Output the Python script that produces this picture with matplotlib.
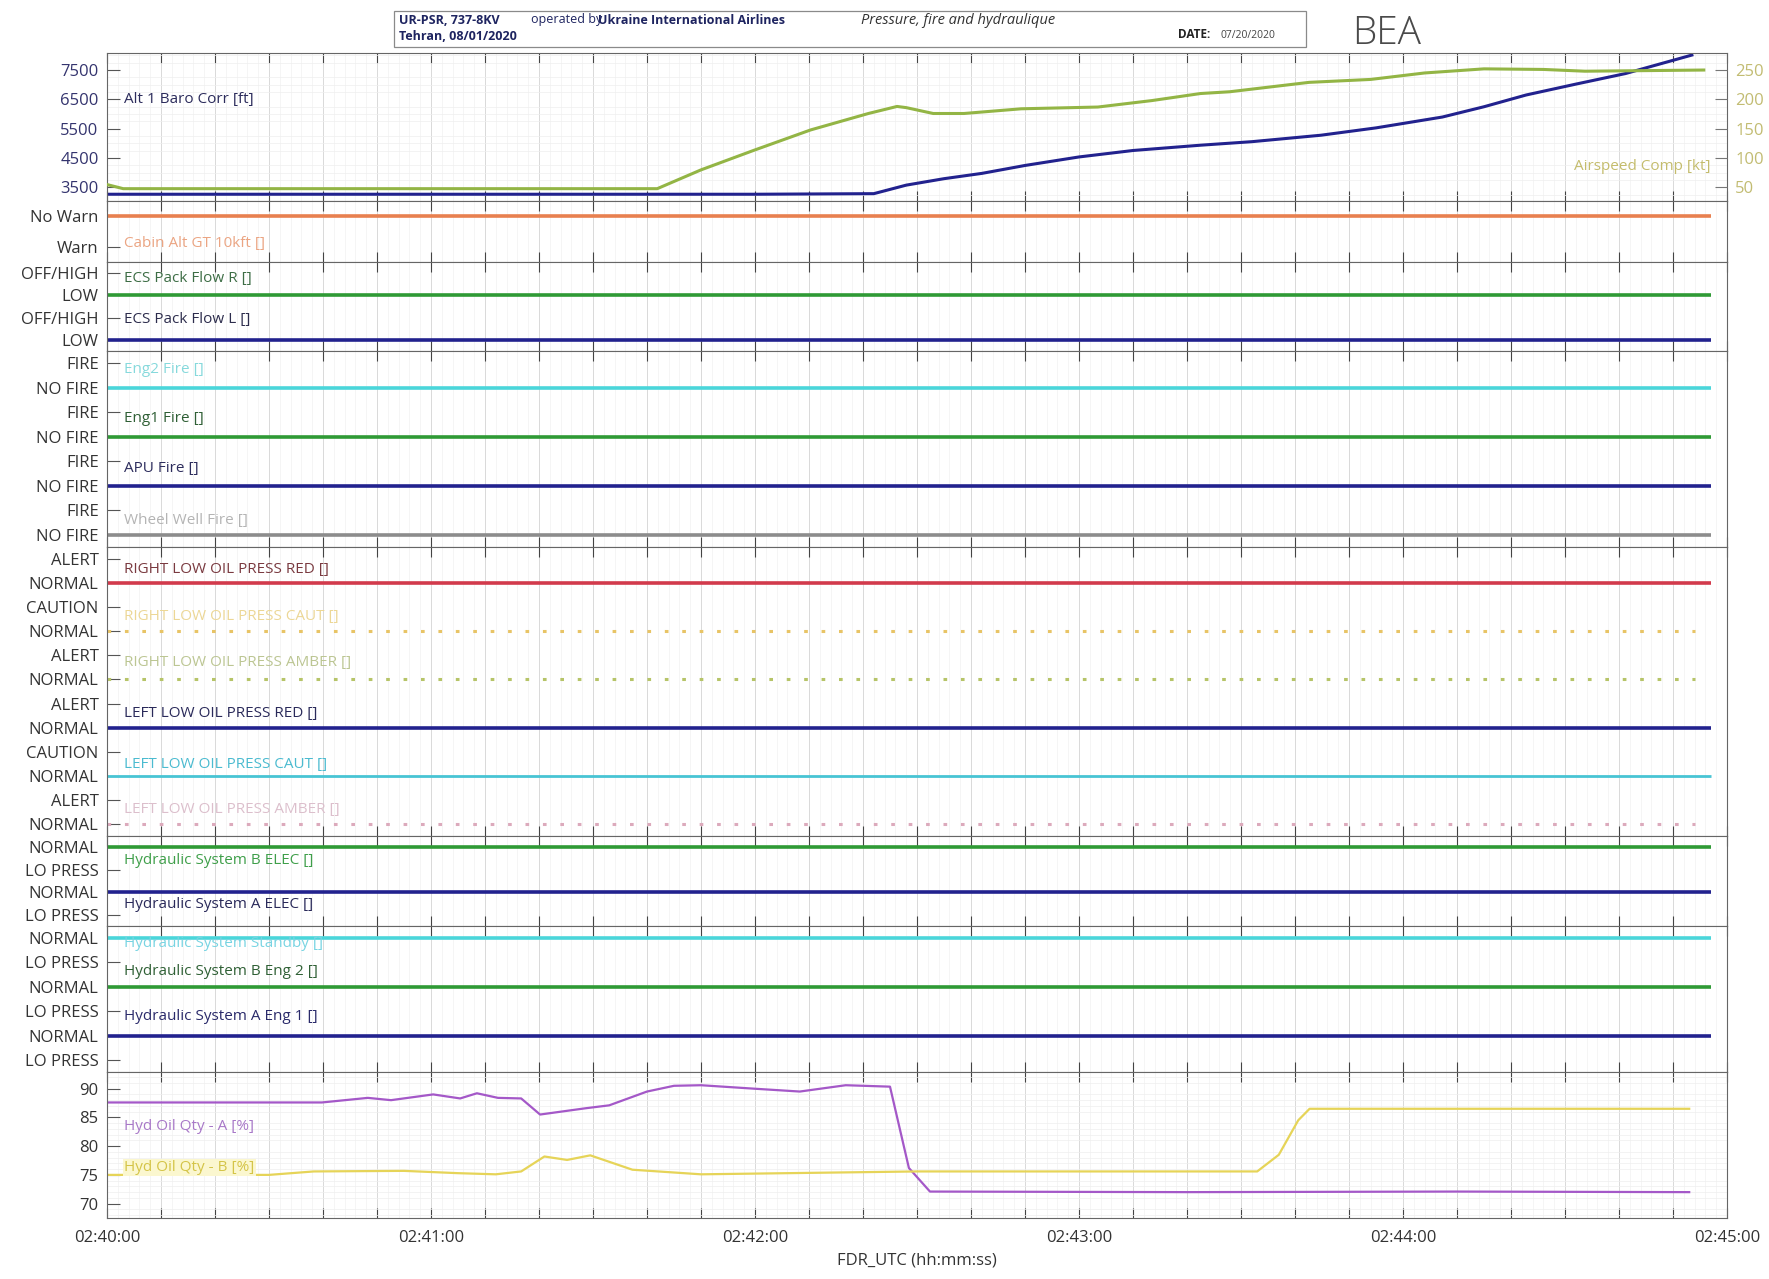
import matplotlib
matplotlib.use("Agg")
import matplotlib.pyplot as plt
from matplotlib.patches import Rectangle
from matplotlib.ticker import FixedLocator, MultipleLocator, FuncFormatter

plt.rcParams['font.family'] = ['Open Sans', 'DejaVu Sans']

# ---- data (time in seconds after 02:40:00 UTC) ----
alt_t = [0, 60, 120, 142, 148, 155, 162, 170, 180, 190, 202.5, 212, 224.8, 235,
         247.3, 255, 262.8, 272, 281.2, 293.5]
alt_ft = [3270, 3270, 3270, 3290, 3580, 3800, 3980, 4250, 4540, 4760, 4940, 5060,
          5280, 5530, 5900, 6250, 6650, 7020, 7380, 8010]

spd_t = [0, 3, 60, 101.9, 110, 119.7, 130.3, 141, 146.3, 148, 153, 158.7, 169.3,
         183.5, 193.5, 202.5, 207.9, 222.6, 234, 244, 255, 266, 273.7, 285, 295.7]
spd_kt = [55, 48, 48, 48, 80, 113, 148, 176, 188, 186, 176, 176, 184, 187, 198,
          210, 213, 229, 234, 245, 252, 251, 248, 249, 250]

hyd_a_t = [0, 39.8, 48.3, 52.6, 60.4, 65.4, 68.5, 72.4, 76.7, 80.2, 88.7, 93, 100,
           105, 110, 119.8, 128.3, 136.8, 145, 148.5, 152.4, 200, 250, 293]
hyd_a = [87.6, 87.6, 88.4, 88.0, 89.0, 88.3, 89.2, 88.4, 88.3, 85.5, 86.6, 87.1,
         89.5, 90.5, 90.6, 90.0, 89.5, 90.6, 90.35, 76.2, 72.1, 72.0, 72.1, 72.0]

hyd_b_t = [0, 30, 38.3, 55, 65, 72, 76.7, 81, 85.2, 89.5, 97.3, 110, 150, 213,
           217, 220.6, 222.7, 293]
hyd_b = [75.0, 75.0, 75.6, 75.7, 75.3, 75.1, 75.6, 78.2, 77.6, 78.4, 75.9, 75.1,
         75.6, 75.6, 78.5, 84.5, 86.5, 86.5]

# discrete parameters: names, (upper, lower) state labels, recorded state
cabin_names = ['Cabin Alt GT 10kft []']
cabin_levels = [('No Warn', 'Warn')]
cabin_states = ['No Warn']

ecs_names = ['ECS Pack Flow R []', 'ECS Pack Flow L []']
ecs_levels = [('OFF/HIGH', 'LOW')] * 2
ecs_states = ['LOW', 'LOW']

fire_names = ['Eng2 Fire []', 'Eng1 Fire []', 'APU Fire []', 'Wheel Well Fire []']
fire_levels = [('FIRE', 'NO FIRE')] * 4
fire_states = ['NO FIRE'] * 4

oil_names = ['RIGHT LOW OIL PRESS RED []', 'RIGHT LOW OIL PRESS CAUT []',
             'RIGHT LOW OIL PRESS AMBER []', 'LEFT LOW OIL PRESS RED []',
             'LEFT LOW OIL PRESS CAUT []', 'LEFT LOW OIL PRESS AMBER []']
oil_levels = [('ALERT', 'NORMAL'), ('CAUTION', 'NORMAL'), ('ALERT', 'NORMAL'),
              ('ALERT', 'NORMAL'), ('CAUTION', 'NORMAL'), ('ALERT', 'NORMAL')]
oil_states = ['NORMAL'] * 6

elec_names = ['Hydraulic System B ELEC []', 'Hydraulic System A ELEC []']
elec_levels = [('NORMAL', 'LO PRESS')] * 2
elec_states = ['NORMAL', 'NORMAL']

eng_names = ['Hydraulic System Standby []', 'Hydraulic System B Eng 2 []',
             'Hydraulic System A Eng 1 []']
eng_levels = [('NORMAL', 'LO PRESS')] * 3
eng_states = ['NORMAL'] * 3

disc_end = 297
dot_end = 294
x_ticks = list(range(0, 301, 10))

# ---- styles ----
NAVY = '#22228e'
GREEN = '#2f9a35'
CYAN = '#4ad6da'

W, H = 1769, 1279
fig = plt.figure(figsize=(W / 100, H / 100), dpi=100)
LEFT, RIGHT = 107, 1727


def make_ax(top, bottom):
    ax = fig.add_axes([LEFT / W, 1 - bottom / H, (RIGHT - LEFT) / W, (bottom - top) / H])
    ax.set_xlim(0, 300)
    ax.xaxis.set_major_locator(FixedLocator(x_ticks))
    ax.xaxis.set_minor_locator(MultipleLocator(2))
    ax.tick_params(axis='x', which='major', direction='in', length=7, width=0.8,
                   top=True, bottom=True, labelbottom=False, color='#444444')
    ax.tick_params(axis='x', which='minor', length=0)
    ax.tick_params(axis='y', which='major', direction='in', length=9, width=0.8,
                   labelsize=12, pad=6, color='#555555', labelcolor='#333333')
    ax.tick_params(axis='y', which='minor', length=0)
    ax.grid(True, axis='x', which='major', color='#d9d9d9', lw=0.7)
    ax.grid(True, axis='x', which='minor', color='#f1f1f1', lw=0.5)
    for s in ax.spines.values():
        s.set_color('#666666')
        s.set_linewidth(0.8)
    return ax


def draw_discrete(ax, names, levels, states, colors, txtcolors, styles, name_rows):
    n = len(names)
    ax.set_ylim(-0.5, 2 * n - 0.5)
    ticks, labels = [], []
    for i in range(n):
        y_up, y_lo = 2 * n - 1 - 2 * i, 2 * n - 2 - 2 * i
        ticks += [y_up, y_lo]
        labels += [levels[i][0], levels[i][1]]
        y_val = y_up if states[i] == levels[i][0] else y_lo
        ls, lw, end = styles[i]
        ax.plot([0, end], [y_val, y_val], color=colors[i], lw=lw, ls=ls,
                solid_capstyle='butt')
        ax.text(3.2, 2 * n - 1 - name_rows[i], names[i], color=txtcolors[i],
                fontsize=11, va='center', ha='left')
    ax.yaxis.set_major_locator(FixedLocator(ticks))
    ax.set_yticklabels(labels)


SOLID = ('-', 2.6, disc_end)
DOTTED = ((0, (1.2, 4.5)), 2.2, dot_end)

# panel 1 : altitude / airspeed
ax1 = make_ax(53, 201)
ax1.plot(alt_t, alt_ft, color=NAVY, lw=2.2)
ax1.set_ylim(3040, 8080)
ax1.yaxis.set_major_locator(FixedLocator([3500, 4500, 5500, 6500, 7500]))
ax1.yaxis.set_minor_locator(MultipleLocator(250))
ax1.tick_params(axis='y', labelcolor='#34346e')
ax1.grid(True, axis='y', which='minor', color='#eeeeee', lw=0.5)
ax1.text(3.2, 6500, 'Alt 1 Baro Corr [ft]', color='#2c2c5c', fontsize=11, va='center')
ax1b = ax1.twinx()
ax1b.set_xlim(0, 300)
ax1b.plot(spd_t, spd_kt, color='#93b545', lw=2.2)
ax1b.set_ylim(27, 279)
ax1b.yaxis.set_major_locator(FixedLocator([50, 100, 150, 200, 250]))
ax1b.tick_params(axis='y', direction='in', length=9, labelsize=12, pad=6,
                 labelcolor='#c2bc72', color='#777777')
ax1b.text(0.99, 0.23, 'Airspeed Comp [kt]', transform=ax1b.transAxes, ha='right',
          va='center', color='#c4bc6c', fontsize=11)
for s in ax1b.spines.values():
    s.set_visible(False)

# panel 2 : cabin altitude
ax2 = make_ax(201, 262)
draw_discrete(ax2, cabin_names, cabin_levels, cabin_states, ['#e8804f'],
              ['#eba583'], [SOLID], [0.9])

# panel 3 : ECS pack flow
ax3 = make_ax(262, 351)
draw_discrete(ax3, ecs_names, ecs_levels, ecs_states, [GREEN, NAVY],
              ['#3d6d45', '#2d2d4d'], [SOLID, SOLID], [0.25, 2.1])

# panel 4 : fire
ax4 = make_ax(351, 547)
draw_discrete(ax4, fire_names, fire_levels, fire_states,
              [CYAN, GREEN, NAVY, '#8c8c8c'],
              ['#86d9dc', '#2f5f35', '#2d2d5d', '#b4b4b4'],
              [SOLID] * 4, [0.25, 2.25, 4.3, 6.4])

# panel 5 : oil pressure
ax5 = make_ax(547, 836)
draw_discrete(ax5, oil_names, oil_levels, oil_states,
              ['#d23a4c', '#e8c466', '#b6c468', NAVY, '#48c4d4', '#dcaabc'],
              ['#7a3a40', '#ecd796', '#bcc693', '#2a2a5a', '#4bbbd0', '#dcbfcc'],
              [SOLID, DOTTED, DOTTED, SOLID, ('-', 2.0, disc_end), DOTTED],
              [0.45, 2.4, 4.3, 6.4, 8.55, 10.4])

# panel 6 : hydraulic electric pumps
ax6 = make_ax(836, 926)
draw_discrete(ax6, elec_names, elec_levels, elec_states, [GREEN, NAVY],
              ['#3f9f4a', '#2a2a5a'], [SOLID, SOLID], [0.6, 2.55])

# panel 7 : hydraulic engine / standby pumps
ax7 = make_ax(926, 1072)
draw_discrete(ax7, eng_names, eng_levels, eng_states, [CYAN, GREEN, NAVY],
              ['#78d4e2', '#2f6035', '#2a2a6a'], [SOLID] * 3, [0.23, 1.35, 3.2])

# panel 8 : hydraulic quantity
ax8 = make_ax(1072, 1218)
ax8.plot(hyd_a_t, hyd_a, color='#a458c8', lw=1.6)
ax8.plot(hyd_b_t, hyd_b, color='#e6d458', lw=1.6)
ax8.set_ylim(67.5, 92.9)
ax8.yaxis.set_major_locator(FixedLocator([70, 75, 80, 85, 90]))
ax8.yaxis.set_minor_locator(MultipleLocator(1))
ax8.grid(True, axis='y', which='minor', color='#eeeeee', lw=0.5)
ax8.text(3.2, 83.4, 'Hyd Oil Qty - A [%]', color='#a878c8', fontsize=11, va='center')
ax8.text(3.2, 76.3, 'Hyd Oil Qty - B [%]', color='#d4c448', fontsize=11, va='center',
         bbox=dict(facecolor='#fbf7cf', edgecolor='none', pad=1))
ax8.tick_params(axis='x', labelbottom=True, labelsize=12, pad=9, labelcolor='#333333')
ax8.xaxis.set_major_formatter(FuncFormatter(
    lambda v, p: f"02:{40 + int(v) // 60:02d}:00" if int(v) % 60 == 0 else ''))
ax8.set_xlabel('FDR_UTC (hh:mm:ss)', fontsize=12, color='#333333', labelpad=4)

# ---- header ----
fig.add_artist(Rectangle((394 / W, 1 - 47 / H), 912 / W, 36 / H, transform=fig.transFigure,
                         fill=False, ec='#8a8a8a', lw=0.9))
hdr = dict(fontsize=9, color='#1e2460', va='center')
fig.text(399 / W, 1 - 20 / H, 'UR-PSR, 737-8KV', fontweight='bold', **hdr)
fig.text(531 / W, 1 - 20 / H, 'operated by', **hdr)
fig.text(598 / W, 1 - 20 / H, 'Ukraine International Airlines', fontweight='bold', **hdr)
fig.text(399 / W, 1 - 37 / H, 'Tehran, 08/01/2020', fontweight='bold', **hdr)
fig.text(861 / W, 1 - 21 / H, 'Pressure, fire and hydraulique', fontsize=10.5,
         style='italic', color='#333333', va='center')
fig.text(1178 / W, 1 - 35 / H, 'DATE:', fontsize=8.5, fontweight='bold', color='#222222',
         va='center')
fig.text(1220 / W, 1 - 35 / H, '07/20/2020', fontsize=7.5, color='#444444', va='center')
fig.text(1352 / W, 1 - 34 / H, 'BEA', fontsize=28, color='#4a4a4a', va='center',
         fontweight='light')

fig.savefig('out.png', dpi=100)
